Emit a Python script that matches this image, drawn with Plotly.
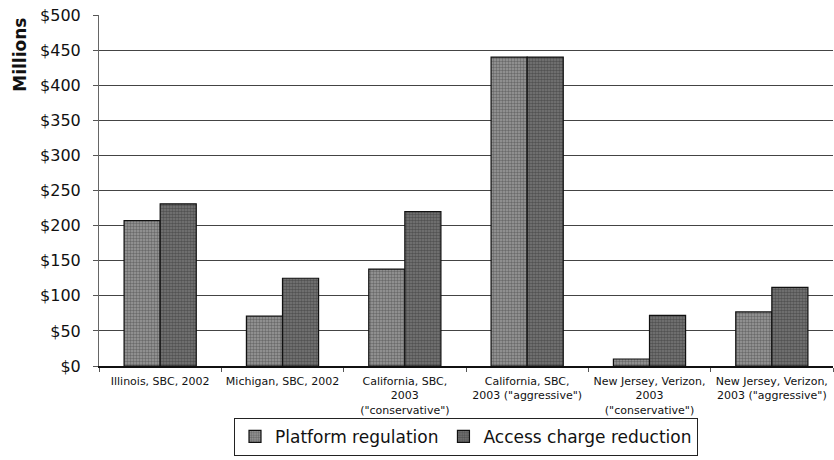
import plotly.graph_objects as go

categories = [
    "Illinois, SBC, 2002",
    "Michigan, SBC, 2002",
    "California, SBC,<br>2003<br>(\"conservative\")",
    "California, SBC,<br>2003 (\"aggressive\")",
    "New Jersey, Verizon,<br>2003<br>(\"conservative\")",
    "New Jersey, Verizon,<br>2003 (\"aggressive\")",
]
platform_regulation = [207, 71, 138, 440, 10, 77]
access_charge_reduction = [231, 125, 220, 440, 72, 112]
y_ticks = [0, 50, 100, 150, 200, 250, 300, 350, 400, 450, 500]
y_tick_labels = ["$" + str(v) for v in y_ticks]

FONT = "DejaVu Sans, Arial, sans-serif"

fig = go.Figure()
fig.add_trace(go.Bar(
    name="Platform regulation", x=categories, y=platform_regulation,
    marker=dict(color="#8a8a8a", line=dict(color="#111111", width=1.2),
                pattern=dict(shape=".", fgcolor="#3a3a3a", bgcolor="#9a9a9a", size=3, solidity=0.5)),
))
fig.add_trace(go.Bar(
    name="Access charge reduction", x=categories, y=access_charge_reduction,
    marker=dict(color="#5a5a5a", line=dict(color="#111111", width=1.2),
                pattern=dict(shape=".", fgcolor="#2a2a2a", bgcolor="#7a7a7a", size=3, solidity=0.6)),
))

fig.add_annotation(
    text="<b>Millions</b>", xref="paper", yref="paper",
    x=-0.108, y=0.886, xanchor="center", yanchor="middle",
    textangle=-90, showarrow=False, font=dict(size=17, family=FONT, color="#111111"),
)

fig.update_layout(
    width=834, height=460,
    margin=dict(l=99, r=1, t=15, b=94, autoexpand=False),
    paper_bgcolor="white", plot_bgcolor="white",
    barmode="group", bargap=0.41, bargroupgap=0,
    font=dict(family=FONT, color="#111111"),
    showlegend=True,
    legend=dict(orientation="h", x=0.5, xanchor="center", y=-0.256, yanchor="bottom",
                bordercolor="#222222", borderwidth=1, font=dict(size=17, family=FONT),
                itemwidth=30, tracegroupgap=0),
    xaxis=dict(showgrid=False, showline=True, linecolor="#111111", linewidth=1.5,
               ticks="outside", tickson="boundaries", ticklen=4, tickcolor="#555555",
               tickfont=dict(size=11, family=FONT), tickangle=0, automargin=False,
               ticklabelstandoff=4),
    yaxis=dict(range=[0, 500], tickvals=y_ticks, ticktext=y_tick_labels,
               tickfont=dict(size=16, family=FONT), showgrid=True, gridcolor="#444444", gridwidth=1,
               showline=True, linecolor="#666666", linewidth=1, ticks="outside",
               ticklen=5, tickcolor="#555555", zeroline=False, automargin=False,
               ticklabelstandoff=9),
)
fig.write_html("out.html", post_script="document.body.style.margin='0';",
               config={"displayModeBar": False})
